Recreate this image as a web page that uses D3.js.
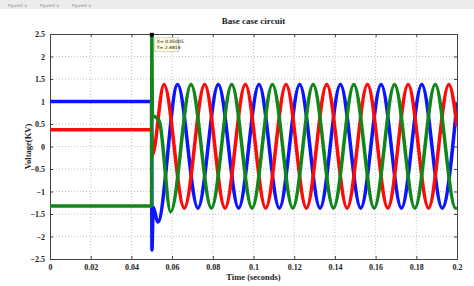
<!DOCTYPE html>
<html lang="en">
<head>
<meta charset="UTF-8">
<script src="https://d3js.org/d3.v7.min.js"></script>
<style>
  body { margin: 0; background: #fff; }
  text { font-family: "Liberation Serif", "DejaVu Serif", serif; font-weight: bold; }
</style>
</head>
<body>
<div id="chart"></div>
<script>
// phase voltages as [time (s), voltage (kV)] (extrema + transient points)
const phaseBlue = [
  [0, 1.0], [0.0499, 1.0], [0.0501, -2.3], [0.0507, -1.35], [0.0530, -1.68],
  [0.0627, 1.38], [0.0727, -1.37], [0.0827, 1.38], [0.0927, -1.37], [0.1027, 1.38],
  [0.1127, -1.37], [0.1227, 1.38], [0.1327, -1.37], [0.1427, 1.38], [0.1527, -1.37],
  [0.1627, 1.38], [0.1727, -1.37], [0.1827, 1.38], [0.1927, -1.37], [0.2, 0.97]
];
const phaseRed = [
  [0, 0.37], [0.0499, 0.37], [0.0502, -0.2], [0.056, 1.38], [0.066, -1.37],
  [0.076, 1.38], [0.086, -1.37], [0.096, 1.38], [0.106, -1.37], [0.116, 1.38],
  [0.126, -1.37], [0.136, 1.38], [0.146, -1.37], [0.156, 1.38], [0.166, -1.37],
  [0.176, 1.38], [0.186, -1.37], [0.196, 1.38], [0.2, 0.45]
];
const phaseGreen = [
  [0, -1.32], [0.0499, -1.32], [0.05005, 2.48], [0.0503, 0.7], [0.0520, 0.65],
  [0.0538, 0.55], [0.0593, -1.45], [0.0693, 1.38], [0.0793, -1.37], [0.0893, 1.38],
  [0.0993, -1.37], [0.1093, 1.38], [0.1193, -1.37], [0.1293, 1.38], [0.1393, -1.37],
  [0.1493, 1.38], [0.1593, -1.37], [0.1693, 1.38], [0.1793, -1.37], [0.1893, 1.38],
  [0.1993, -1.37], [0.2, -1.36]
];
const xTicks = [0, 0.02, 0.04, 0.06, 0.08, 0.1, 0.12, 0.14, 0.16, 0.18, 0.2];
const yTicks = [-2.5, -2, -1.5, -1, -0.5, 0, 0.5, 1, 1.5, 2, 2.5];
const datatip = { x: 0.05005, y: 2.4814 };

const W = 474, H = 286;
const margin = { top: 34, right: 17, bottom: 27, left: 50 };
const svg = d3.select("#chart").append("svg").attr("width", W).attr("height", H);

// window tab strip
svg.append("rect").attr("x", 0).attr("y", 0).attr("width", W).attr("height", 9).attr("fill", "#ececec");
["Figure2 ×", "Figure3 ×", "Figure4 ×"].forEach(function (t, i) {
  svg.append("text").attr("x", 8 + i * 32).attr("y", 6.5)
    .style("font-family", "DejaVu Sans").style("font-weight", "normal")
    .attr("font-size", 4).attr("fill", "#888").text(t);
});

const x = d3.scaleLinear().domain([0, 0.2]).range([margin.left, W - margin.right]);
const y = d3.scaleLinear().domain([-2.5, 2.5]).range([H - margin.bottom, margin.top]);

// grid
svg.append("g").selectAll("line").data(xTicks.slice(1, -1)).join("line")
  .attr("x1", d => x(d)).attr("x2", d => x(d)).attr("y1", y(2.5)).attr("y2", y(-2.5))
  .attr("stroke", "#aaa").attr("stroke-width", 0.7).attr("stroke-dasharray", "1,2");
svg.append("g").selectAll("line").data(yTicks.slice(1, -1)).join("line")
  .attr("x1", x(0)).attr("x2", x(0.2)).attr("y1", d => y(d)).attr("y2", d => y(d))
  .attr("stroke", "#aaa").attr("stroke-width", 0.7).attr("stroke-dasharray", "1,2");

// axes (inward ticks, box)
const fmt = d => d3.format("")(+d.toFixed(2));
svg.append("g").attr("transform", `translate(0,${y(-2.5)})`)
  .call(d3.axisBottom(x).tickValues(xTicks).tickSize(-3).tickPadding(5).tickFormat(fmt))
  .call(g => g.selectAll("text").attr("font-size", 8).attr("fill", "#222"));
svg.append("g").attr("transform", `translate(${x(0)},0)`)
  .call(d3.axisLeft(y).tickValues(yTicks).tickSize(-3).tickPadding(5).tickFormat(fmt))
  .call(g => g.selectAll("text").attr("font-size", 8).attr("fill", "#222"));
svg.append("g").attr("transform", `translate(0,${y(2.5)})`)
  .call(d3.axisTop(x).tickValues(xTicks).tickSize(-3).tickFormat(""));
svg.append("g").attr("transform", `translate(${x(0.2)},0)`)
  .call(d3.axisRight(y).tickValues(yTicks).tickSize(-3).tickFormat(""));
svg.selectAll(".domain").attr("stroke", "#444");
svg.selectAll(".tick line").attr("stroke", "#444");

// clip
svg.append("clipPath").attr("id", "plot").append("rect")
  .attr("x", x(0)).attr("y", y(2.5)).attr("width", x(0.2) - x(0)).attr("height", y(-2.5) - y(2.5));

const line = d3.line().x(d => x(d[0])).y(d => y(d[1])).curve(d3.curveMonotoneX);
const series = [
  { data: phaseBlue, color: "#0a14ff" },
  { data: phaseRed, color: "#ff0a0a" },
  { data: phaseGreen, color: "#11861a" }
];
svg.append("g").attr("clip-path", "url(#plot)").selectAll("path").data(series).join("path")
  .attr("d", d => line(d.data)).attr("fill", "none")
  .attr("stroke", d => d.color).attr("stroke-width", 3.5).attr("stroke-linejoin", "round");

// data tip
svg.append("rect").attr("x", x(datatip.x) - 2).attr("y", y(datatip.y) - 2)
  .attr("width", 4).attr("height", 4).attr("fill", "#000");
const tip = svg.append("g").attr("transform", `translate(${x(datatip.x) + 3},${y(datatip.y) + 3})`);
tip.append("rect").attr("width", 24).attr("height", 14).attr("fill", "#fffbe0").attr("stroke", "#999").attr("stroke-width", 0.4);
tip.append("text").attr("x", 2).attr("y", 5.5).attr("font-size", 4.5).style("font-family", "DejaVu Sans").style("font-weight", "normal").text("X= " + datatip.x);
tip.append("text").attr("x", 2).attr("y", 11).attr("font-size", 4.5).style("font-family", "DejaVu Sans").style("font-weight", "normal").text("Y= " + datatip.y);

// labels
svg.append("text").attr("x", (x(0) + x(0.2)) / 2).attr("y", 24).attr("text-anchor", "middle")
  .attr("font-size", 9).attr("fill", "#222").text("Base case circuit");
svg.append("text").attr("x", (x(0) + x(0.2)) / 2).attr("y", 280).attr("text-anchor", "middle")
  .attr("font-size", 8.5).attr("fill", "#222").text("Time (seconds)");
svg.append("text").attr("transform", `translate(31,${y(0)}) rotate(-90)`).attr("text-anchor", "middle")
  .attr("font-size", 8.5).attr("fill", "#222").text("Voltage(KV)");
</script>
</body>
</html>
